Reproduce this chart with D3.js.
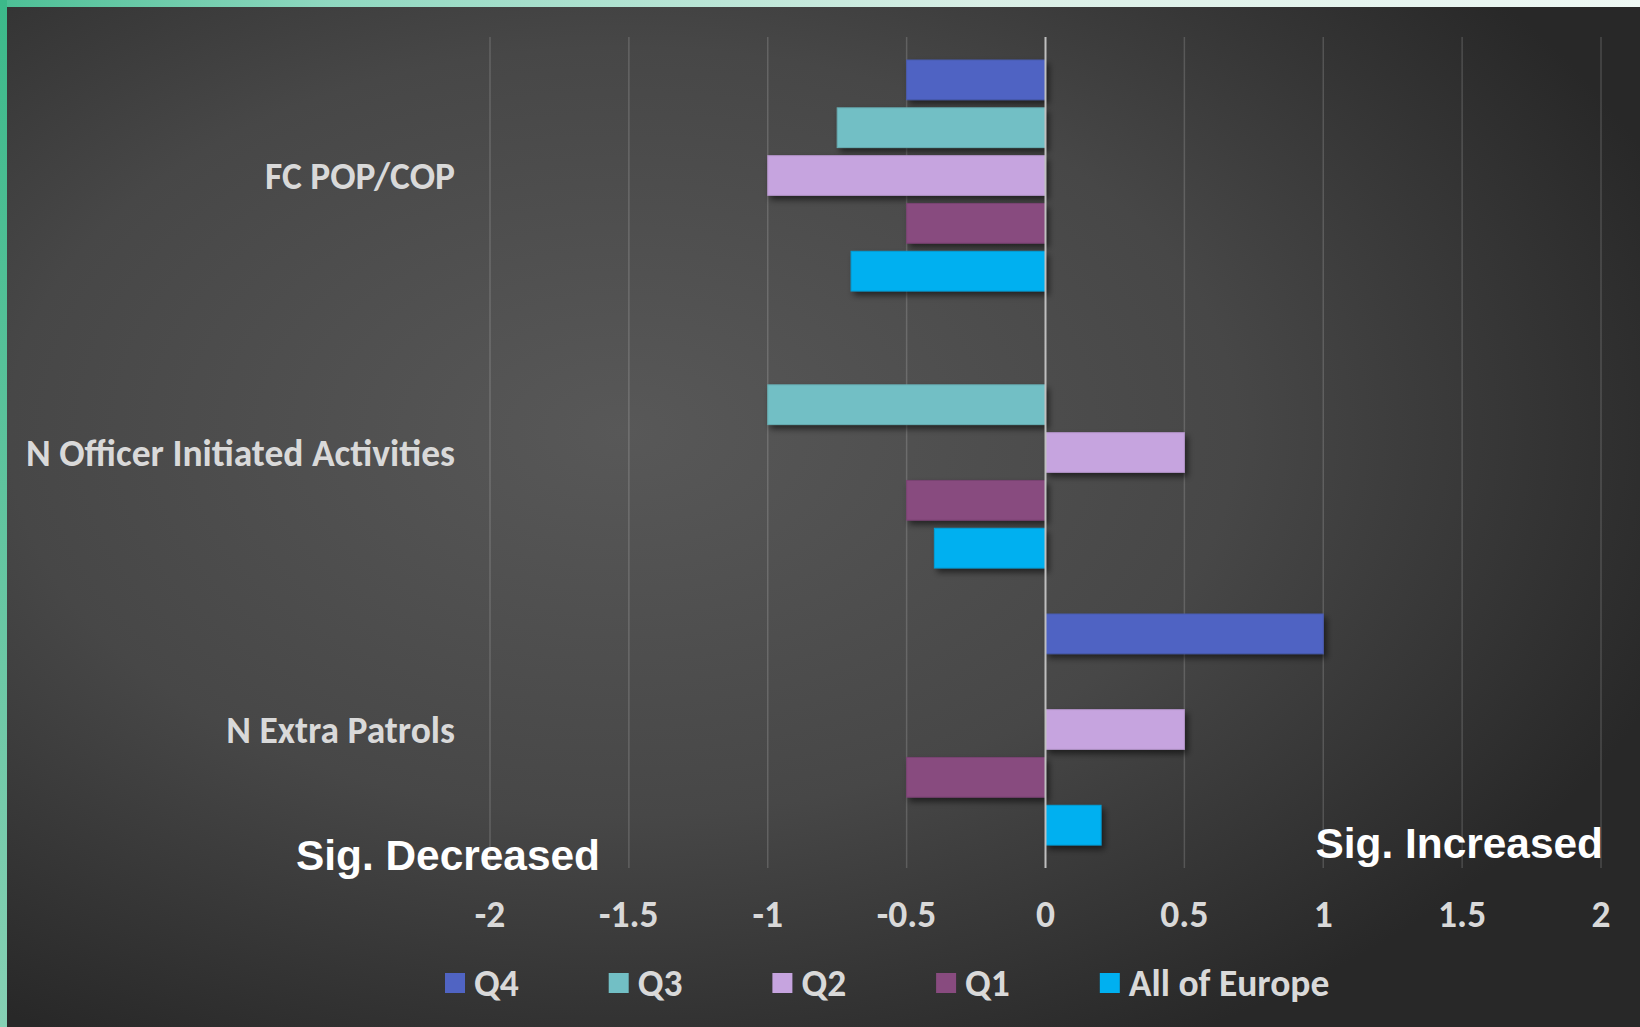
<!DOCTYPE html>
<html>
<head>
<meta charset="utf-8">
<script src="https://cdn.jsdelivr.net/npm/d3@7"></script>
<style>
  body { margin: 0; background: #2a2a2a; }
  svg { display: block; }
</style>
</head>
<body>
<div id="chart"></div>
<script>
// Chart data
var categories = ["FC POP/COP", "N Officer Initiated Activities", "N Extra Patrols"];
var seriesNames = ["Q4", "Q3", "Q2", "Q1", "All of Europe"];
var seriesColors = ["#5064c3", "#72bfc5", "#c6a4df", "#884b7f", "#00b0f0"];
var q4 = [-0.5, 0, 1];
var q3 = [-0.75, -1, 0];
var q2 = [-1, 0.5, 0.5];
var q1 = [-0.5, -0.5, -0.5];
var europe = [-0.7, -0.4, 0.2];
var xTicks = [-2, -1.5, -1, -0.5, 0, 0.5, 1, 1.5, 2];

var seriesValues = [q4, q3, q2, q1, europe];

// Chart setup
var svgWidth = 1640;
var svgHeight = 1027;

var svg = d3.select("#chart").append("svg")
  .attr("width", svgWidth)
  .attr("height", svgHeight);

var defs = svg.append("defs");

var bg = defs.append("radialGradient")
  .attr("id", "bg")
  .attr("cx", "38%").attr("cy", "42%").attr("r", "68%");
bg.append("stop").attr("offset", "0%").attr("stop-color", "#585858");
bg.append("stop").attr("offset", "55%").attr("stop-color", "#474747");
bg.append("stop").attr("offset", "100%").attr("stop-color", "#282828");

var topStrip = defs.append("linearGradient").attr("id", "topStrip");
topStrip.append("stop").attr("offset", "0%").attr("stop-color", "#4cbf95");
topStrip.append("stop").attr("offset", "20%").attr("stop-color", "#8fd8c0");
topStrip.append("stop").attr("offset", "60%").attr("stop-color", "#d9efe6");
topStrip.append("stop").attr("offset", "100%").attr("stop-color", "#eef8f4");

var leftStrip = defs.append("linearGradient").attr("id", "leftStrip")
  .attr("x1", 0).attr("y1", 0).attr("x2", 0).attr("y2", 1);
leftStrip.append("stop").attr("offset", "0%").attr("stop-color", "#3cb98a");
leftStrip.append("stop").attr("offset", "100%").attr("stop-color", "#86d0b4");

var shadow = defs.append("filter").attr("id", "shadow")
  .attr("x", "-10%").attr("y", "-30%").attr("width", "130%").attr("height", "170%");
shadow.append("feDropShadow")
  .attr("dx", 3).attr("dy", 4).attr("stdDeviation", 3)
  .attr("flood-color", "#000").attr("flood-opacity", 0.55);

// Background and frame
svg.append("rect").attr("width", svgWidth).attr("height", svgHeight).attr("fill", "url(#bg)");
svg.append("rect").attr("width", svgWidth).attr("height", 7).attr("fill", "url(#topStrip)");
svg.append("rect").attr("width", 7).attr("height", svgHeight).attr("fill", "url(#leftStrip)");

// Scales
var plot = { left: 490, right: 1601, top: 37, bottom: 868 };

var xScale = d3.scaleLinear()
  .domain([-2, 2])
  .range([plot.left, plot.right]);

var yScale = d3.scaleBand()
  .domain(categories)
  .range([plot.top, plot.bottom]);

var ySeries = d3.scaleBand()
  .domain(seriesNames)
  .range([23, yScale.bandwidth() - 23])
  .paddingInner(0.17);

// Gridlines
svg.append("g")
  .selectAll("line")
  .data(xTicks.filter(d => d !== 0))
  .enter()
  .append("line")
  .attr("x1", d => xScale(d))
  .attr("x2", d => xScale(d))
  .attr("y1", plot.top)
  .attr("y2", plot.bottom)
  .attr("stroke", "#ffffff")
  .attr("stroke-opacity", 0.16)
  .attr("stroke-width", 1.5);

// Bars
var rows = [];
categories.forEach(function(c, i) {
  seriesNames.forEach(function(s, j) {
    if (seriesValues[j][i] !== 0) {
      rows.push({ cat: c, series: s, value: seriesValues[j][i], color: seriesColors[j] });
    }
  });
});

svg.append("g")
  .selectAll("rect")
  .data(rows)
  .enter()
  .append("rect")
  .attr("x", d => xScale(Math.min(0, d.value)))
  .attr("y", d => yScale(d.cat) + ySeries(d.series))
  .attr("width", d => Math.abs(xScale(d.value) - xScale(0)))
  .attr("height", ySeries.bandwidth())
  .attr("fill", d => d.color)
  .attr("stroke", d => d3.color(d.color).darker(0.3))
  .attr("stroke-width", 1)
  .attr("filter", "url(#shadow)");

// Zero axis line
svg.append("line")
  .attr("x1", xScale(0)).attr("x2", xScale(0))
  .attr("y1", plot.top).attr("y2", plot.bottom)
  .attr("stroke", "#bfbfbf")
  .attr("stroke-width", 2);

var labelFont = "Carlito, Lato, 'Open Sans', sans-serif";

// Category labels
svg.append("g")
  .selectAll("text")
  .data(categories)
  .enter()
  .append("text")
  .attr("x", 455)
  .attr("y", d => yScale(d) + yScale.bandwidth() / 2)
  .attr("dy", "0.35em")
  .attr("text-anchor", "end")
  .attr("font-family", labelFont)
  .attr("font-weight", "bold")
  .attr("font-size", "37.5px")
  .attr("fill", "#d9d9d9")
  .text(d => d);

// X axis labels
svg.append("g")
  .selectAll("text")
  .data(xTicks)
  .enter()
  .append("text")
  .attr("x", d => xScale(d))
  .attr("y", 914)
  .attr("dy", "0.35em")
  .attr("text-anchor", "middle")
  .attr("font-family", labelFont)
  .attr("font-weight", "bold")
  .attr("font-size", "37.5px")
  .attr("fill", "#d9d9d9")
  .text(d => d);

// Annotations
svg.append("text")
  .attr("x", 296).attr("y", 870)
  .attr("font-family", "'Liberation Sans', Arial, sans-serif")
  .attr("font-weight", "bold")
  .attr("font-size", "42.4px")
  .attr("fill", "#ffffff")
  .text("Sig. Decreased");

svg.append("text")
  .attr("x", 1603).attr("y", 858)
  .attr("text-anchor", "end")
  .attr("font-family", "'Liberation Sans', Arial, sans-serif")
  .attr("font-weight", "bold")
  .attr("font-size", "42.4px")
  .attr("fill", "#ffffff")
  .text("Sig. Increased");

// Legend
var legend = svg.append("g")
  .selectAll("g")
  .data(seriesNames)
  .enter()
  .append("g")
  .attr("transform", (d, i) => `translate(${445 + i * 163.7}, 983)`);

legend.append("rect")
  .attr("x", 0).attr("y", -10)
  .attr("width", 20).attr("height", 20)
  .attr("fill", (d, i) => seriesColors[i]);

legend.append("text")
  .attr("x", 29)
  .attr("dy", "0.35em")
  .attr("font-family", labelFont)
  .attr("font-weight", "bold")
  .attr("font-size", "37.5px")
  .attr("fill", "#d9d9d9")
  .text(d => d);
</script>
</body>
</html>
